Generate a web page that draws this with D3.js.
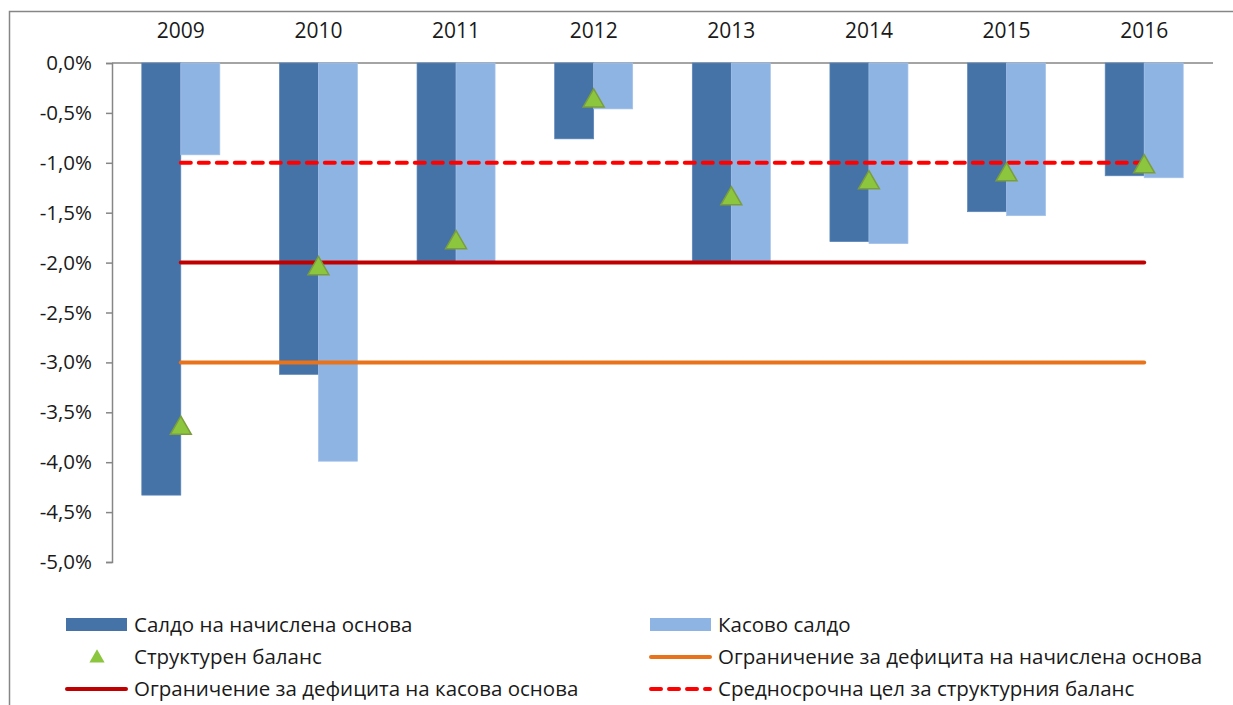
<!DOCTYPE html>
<html>
<head>
<meta charset="utf-8">
<script src="https://cdn.jsdelivr.net/npm/d3@7"></script>
<style>
  body { margin: 0; background: #fff; }
  svg text { font-family: "Open Sans", sans-serif; fill: #1a1a1a; }
</style>
</head>
<body>
<div id="chart"></div>
<script>
// chart data
var years = ["2009", "2010", "2011", "2012", "2013", "2014", "2015", "2016"];
var accrualBalance = [-4.33, -3.12, -1.99, -0.76, -1.99, -1.79, -1.49, -1.13];
var cashBalance = [-0.92, -3.99, -1.99, -0.46, -1.99, -1.81, -1.53, -1.15];
var structuralBalance = [-3.64, -2.04, -1.78, -0.36, -1.34, -1.18, -1.10, -1.02];
var accrualLimit = [-3, -3, -3, -3, -3, -3, -3, -3];
var cashLimit = [-2, -2, -2, -2, -2, -2, -2, -2];
var mtoTarget = [-1, -1, -1, -1, -1, -1, -1, -1];
var yTicks = [0, -0.5, -1, -1.5, -2, -2.5, -3, -3.5, -4, -4.5, -5];

var svgWidth = 1233, svgHeight = 705;
var margin = {top: 63, left: 112, right: 20};
var chartWidth = 1213 - margin.left;
var chartHeight = 562 - margin.top;

var svg = d3.select("#chart").append("svg")
    .attr("width", svgWidth)
    .attr("height", svgHeight);

// outer frame (right and bottom edges fall outside the picture)
svg.append("rect")
    .attr("x", 9.5).attr("y", 11.5)
    .attr("width", 1260).attr("height", 720)
    .attr("fill", "none")
    .attr("stroke", "#868686")
    .attr("stroke-width", 1.5);

var chartGroup = svg.append("g")
    .attr("transform", `translate(${margin.left},${margin.top})`);

var xScale = d3.scaleBand()
    .domain(years)
    .range([0, chartWidth])
    .paddingInner(0.433)
    .paddingOuter(0.2165);

var xSub = d3.scaleBand()
    .domain(["accrual", "cash"])
    .range([0, xScale.bandwidth()]);

var yScale = d3.scaleLinear()
    .domain([-5, 0])
    .range([chartHeight, 0]);

var center = d => xScale(d) + xScale.bandwidth() / 2;

// y axis
var yAxis = d3.axisLeft(yScale)
    .tickValues(yTicks)
    .tickSizeInner(6)
    .tickSizeOuter(6)
    .tickPadding(14)
    .tickFormat(d => d3.format(".1f")(d).replace(".", ",").replace("−", "-") + "%");

var yG = chartGroup.append("g").call(yAxis);
yG.selectAll("path, line").attr("stroke", "#868686").attr("stroke-width", 1.5);
yG.selectAll("text").style("font-size", "20.5px");

// zero line along top
chartGroup.append("line")
    .attr("x1", 0).attr("x2", chartWidth)
    .attr("y1", yScale(0)).attr("y2", yScale(0))
    .attr("stroke", "#868686")
    .attr("stroke-width", 1.5);

// year labels on top
chartGroup.append("g").selectAll("text")
    .data(years)
    .enter()
    .append("text")
        .attr("x", d => center(d))
        .attr("y", -32)
        .attr("dy", "0.35em")
        .attr("text-anchor", "middle")
        .style("font-size", "21px")
        .text(d => d);

// bars
var bars = chartGroup.append("g");
bars.selectAll("rect.accrual")
    .data(years)
    .enter()
    .append("rect")
        .attr("x", d => xScale(d) + xSub("accrual"))
        .attr("y", yScale(0))
        .attr("width", xSub.bandwidth())
        .attr("height", (d, i) => yScale(accrualBalance[i]) - yScale(0))
        .attr("fill", "#4573A7")
        .attr("stroke", "#5b86b8")
        .attr("stroke-width", 0.7);

bars.selectAll("rect.cash")
    .data(years)
    .enter()
    .append("rect")
        .attr("x", d => xScale(d) + xSub("cash"))
        .attr("y", yScale(0))
        .attr("width", xSub.bandwidth())
        .attr("height", (d, i) => yScale(cashBalance[i]) - yScale(0))
        .attr("fill", "#8EB4E3")
        .attr("stroke", "#a4c2e9")
        .attr("stroke-width", 0.7);

// threshold lines
function drawLine(values, color, dash) {
    var line = d3.line()
        .x((d, i) => center(years[i]))
        .y(d => yScale(d));
    chartGroup.append("path")
        .datum(values)
        .attr("d", line)
        .attr("fill", "none")
        .attr("stroke", color)
        .attr("stroke-width", 4)
        .attr("stroke-linecap", "round")
        .attr("stroke-dasharray", dash);
}
drawLine(accrualLimit, "#E8731A", null);
drawLine(cashLimit, "#C00000", null);
drawLine(mtoTarget, "#FF0000", "10,8");

// structural balance triangles
var tri = d3.symbol().type(d3.symbolTriangle).size(190);
chartGroup.append("g").selectAll("path")
    .data(structuralBalance)
    .enter()
    .append("path")
        .attr("d", tri)
        .attr("transform", (d, i) => `translate(${center(years[i])},${yScale(d) + 2})`)
        .attr("fill", "#8CC63F")
        .attr("stroke", "#7A9E3C")
        .attr("stroke-width", 1.5);

// legend
var legendItems = [
    {label: "Салдо на начислена основа", type: "rect", color: "#4573A7", col: 0, row: 0},
    {label: "Касово салдо", type: "rect", color: "#8EB4E3", col: 1, row: 0},
    {label: "Структурен баланс", type: "tri", color: "#8CC63F", col: 0, row: 1},
    {label: "Ограничение за дефицита на начислена основа", type: "line", color: "#E8731A", col: 1, row: 1},
    {label: "Ограничение за дефицита на касова основа", type: "line", color: "#C00000", col: 0, row: 2},
    {label: "Средносрочна цел за структурния баланс", type: "dash", color: "#FF0000", col: 1, row: 2}
];

var legend = svg.append("g");
var item = legend.selectAll("g")
    .data(legendItems)
    .enter()
    .append("g")
        .attr("transform", d => `translate(${d.col === 0 ? 66 : 650},${625 + d.row * 32})`);

item.filter(d => d.type === "rect").append("rect")
    .attr("x", 0).attr("y", -7)
    .attr("width", 61).attr("height", 13)
    .attr("fill", d => d.color);

item.filter(d => d.type === "tri").append("path")
    .attr("d", d3.symbol().type(d3.symbolTriangle).size(100))
    .attr("transform", "translate(31,1)")
    .attr("fill", d => d.color);

item.filter(d => d.type === "line" || d.type === "dash").append("line")
    .attr("x1", 1).attr("x2", 60)
    .attr("y1", 0).attr("y2", 0)
    .attr("stroke", d => d.color)
    .attr("stroke-width", 4)
    .attr("stroke-linecap", "round")
    .attr("stroke-dasharray", d => d.type === "dash" ? "10,8" : null);

item.append("text")
    .attr("x", 68)
    .attr("y", 0)
    .attr("dy", "0.35em")
    .style("font-size", "20.5px")
    .text(d => d.label);
</script>
</body>
</html>
